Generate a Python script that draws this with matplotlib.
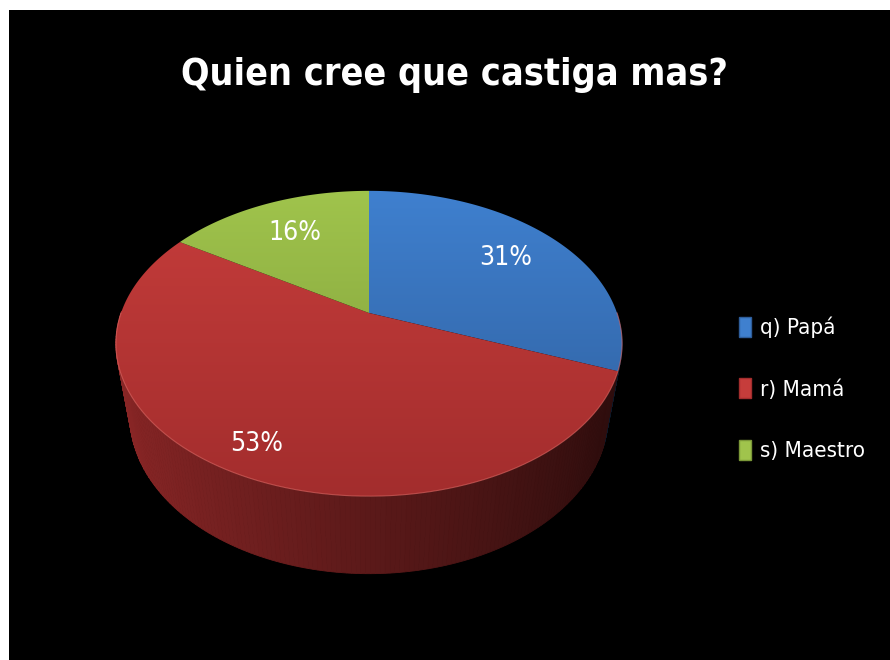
import numpy as np
import matplotlib.pyplot as plt
from matplotlib.patches import Polygon, Patch
from matplotlib.colors import to_rgb

plt.rcParams['font.family'] = ['DejaVu Sans']
plt.rcParams['font.stretch'] = 'condensed'

# data
title = 'Quien cree que castiga mas?'
labels = ['q) Papá', 'r) Mamá', 's) Maestro']
values = [31, 53, 16]
pct_labels = ['31%', '53%', '16%']

# top face gradient (upper, lower) and colours
top_colors = [('#3f80cf', '#2e5d9a'), ('#c63d3b', '#a32d2d'), ('#a0c44c', '#7b9838')]

# 3d pie geometry in pixel units
cx, cy = 369, 313
R = 248
H = 95
elev = np.arcsin(0.591)
D = 1001
label_r = [0.72, 0.85, 0.7]


def project(x, y, z):
    depth = D + y * np.cos(elev) - z * np.sin(elev)
    s = D / depth
    return cx + x * s, cy - (y * np.sin(elev) + z * np.cos(elev)) * s


fig = plt.figure(figsize=(8.9, 6.6), dpi=100)
fig.patch.set_facecolor('white')
ax = fig.add_axes([9 / 890, 0, 881 / 890, 650 / 660])
ax.set_facecolor('black')
ax.set_xticks([])
ax.set_yticks([])
for sp in ax.spines.values():
    sp.set_visible(False)

total = sum(values)
starts = []
ends = []
a = 90.0
for v in values:
    starts.append(a)
    a = a - 360.0 * v / total
    ends.append(a)

# side walls (front half only), shaded darker toward the right
for i, v in enumerate(values):
    t = np.radians(np.linspace(ends[i], starts[i], 200))
    base = np.array(to_rgb(top_colors[i][1]))
    for k in range(len(t) - 1):
        t0, t1 = t[k], t[k + 1]
        if np.sin(t0) > 0 and np.sin(t1) > 0:
            continue
        tt = np.linspace(t0, t1, 3)
        xs = R * np.cos(tt)
        ys = R * np.sin(tt)
        px1, py1 = project(xs, ys, 0)
        px2, py2 = project(xs, ys, -H)
        pts = np.column_stack([np.r_[px1, px2[::-1]], np.r_[py1, py2[::-1]]])
        tm = 0.5 * (t0 + t1)
        f = 0.56 - 0.30 * np.cos(tm)
        ax.add_patch(Polygon(pts, closed=True, facecolor=np.clip(base * f, 0, 1),
                             edgecolor=np.clip(base * f, 0, 1), lw=0.6))

# top faces with vertical gradient
top_y0 = cy - R * np.sin(elev) * D / (D + R * np.cos(elev))
top_y1 = cy + R * np.sin(elev) * D / (D - R * np.cos(elev))
for i, v in enumerate(values):
    t = np.radians(np.linspace(starts[i], ends[i], 200))
    px, py = project(R * np.cos(t), R * np.sin(t), 0)
    pts = np.column_stack([np.r_[cx, px], np.r_[cy, py]])
    poly = Polygon(pts, closed=True, facecolor='none', edgecolor='none')
    ax.add_patch(poly)
    c0 = np.array(to_rgb(top_colors[i][0]))
    c1 = np.array(to_rgb(top_colors[i][1]))
    g = np.linspace(0, 1, 256)[:, None]
    img = (c0[None, :] * (1 - g) + c1[None, :] * g)[:, None, :]
    im = ax.imshow(img, extent=[cx - R - 20, cx + R + 20, top_y1, top_y0],
                   aspect='auto', interpolation='bilinear', zorder=2)
    im.set_clip_path(poly)

# light rim along the front edge of the top
t = np.radians(np.linspace(180, 360, 200))
px, py = project(R * np.cos(t), R * np.sin(t), 0)
ax.plot(px, py, color='#e06a66', lw=0.8, alpha=0.6, zorder=3)
ax.set_xlim(9, 890)
ax.set_ylim(660, 10)

# percentage labels
for i, v in enumerate(values):
    tm = np.radians(0.5 * (starts[i] + ends[i]))
    lx, ly = project(label_r[i] * R * np.cos(tm), label_r[i] * R * np.sin(tm), 0)
    ax.text(lx, ly, pct_labels[i], color='white', fontsize=19,
            ha='center', va='center', zorder=4)

ax.text(454, 75, title, color='white', fontsize=27, fontweight='bold',
        ha='center', va='center')

handles = [Patch(facecolor=c[0], edgecolor=c[1]) for c in top_colors]
ax.legend(handles, labels, loc='center left', bbox_to_anchor=(0.806, 0.417),
          frameon=False, labelcolor='white', fontsize=16, handlelength=0.55,
          handleheight=1.0, handletextpad=0.4, labelspacing=1.8)

fig.savefig('out.png', dpi=100, facecolor=fig.get_facecolor())
